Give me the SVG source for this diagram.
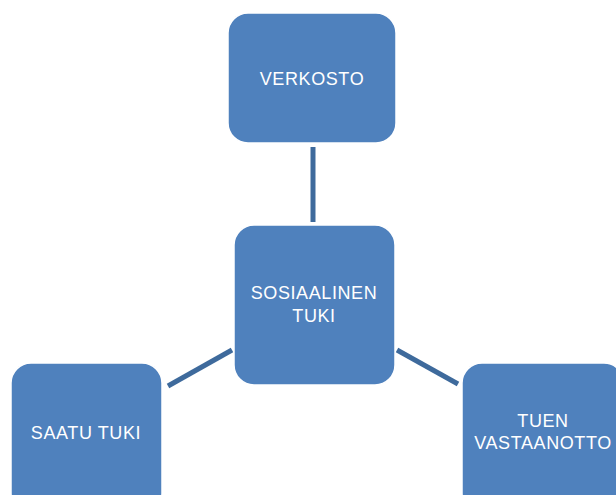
<svg xmlns="http://www.w3.org/2000/svg" width="616" height="495" viewBox="0 0 616 495">
<style>
.box{fill:#4F81BD;stroke:#FFFFFF;stroke-width:1.5}
.lbl{fill:#FFFFFF;font-family:"Liberation Sans",Arial,sans-serif;font-size:18px;text-anchor:middle;letter-spacing:0.6px}
.conn{stroke:#3E6A9C;stroke-width:5;fill:none}
</style>
<rect width="616" height="495" fill="#FFFFFF"/>
<g id="connectors">
<line class="conn" x1="313" y1="147" x2="313" y2="222"/>
<line class="conn" x1="168" y1="386" x2="232" y2="350"/>
<line class="conn" x1="397" y1="350" x2="458" y2="384"/>
</g>
<g id="verkosto">
<rect class="box" x="228" y="13" width="168" height="130" rx="20"/>
<text class="lbl" x="312" y="85">VERKOSTO</text>
</g>
<g id="sosiaalinen-tuki">
<rect class="box" x="234" y="225" width="161" height="160" rx="20"/>
<text class="lbl" x="314" y="299">SOSIAALINEN</text>
<text class="lbl" x="314" y="322">TUKI</text>
</g>
<g id="saatu-tuki">
<rect class="box" x="11" y="363" width="151" height="150" rx="20"/>
<text class="lbl" x="86" y="439">SAATU TUKI</text>
</g>
<g id="tuen-vastaanotto">
<rect class="box" x="462" y="363" width="162" height="150" rx="20"/>
<text class="lbl" x="543" y="427">TUEN</text>
<text class="lbl" x="543" y="449">VASTAANOTTO</text>
</g>
</svg>
